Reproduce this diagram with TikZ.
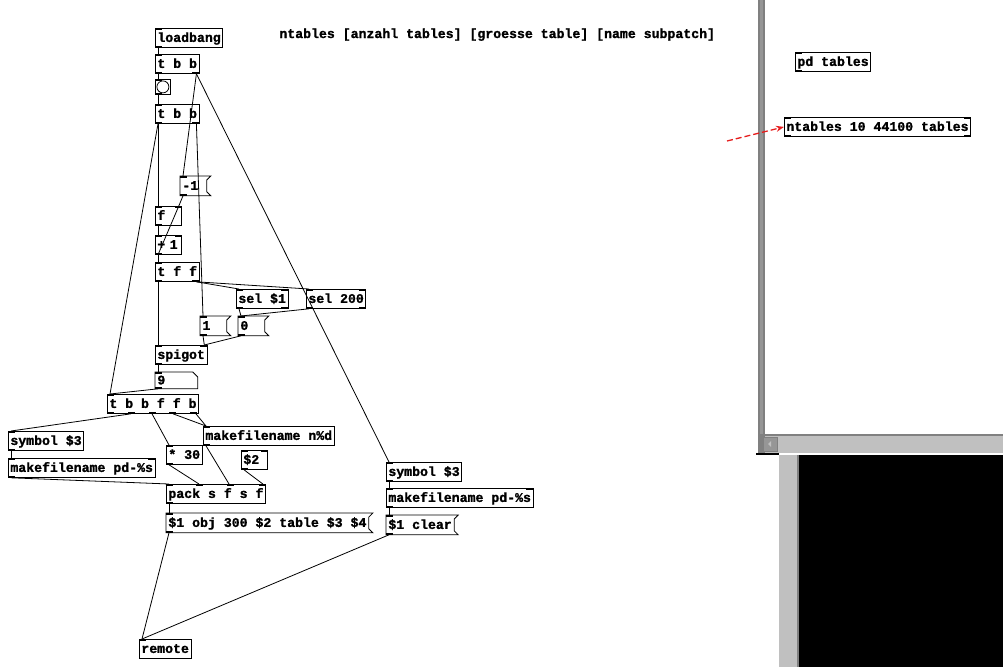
\documentclass[tikz,border=0pt]{standalone}
\usepackage{fontspec}
\newfontfamily\pdfont[FakeBold=1.2]{Liberation Mono}
\usetikzlibrary{positioning, arrows.meta, calc}
\definecolor{barlight}{RGB}{192,192,192}
\definecolor{bardark}{RGB}{128,128,128}
\definecolor{barmid}{RGB}{150,150,150}
\definecolor{arrowred}{RGB}{230,30,30}

\tikzset{
  obj/.style={draw, line width=0.8pt, anchor=north west, inner xsep=2pt, inner ysep=0pt,
    minimum height=19pt, text height=10pt, text depth=2pt,
    font=\pdfont\bfseries\fontsize{13.2}{15}\selectfont},
  msg/.style={obj, draw=none},
  short/.style={text width=22pt, align=left},
  wire/.style={line width=0.8pt},
}

\begin{document}
\begin{tikzpicture}[x=1pt, y=-1pt]
    \useasboundingbox (0,0) rectangle (1003,667);
    \fill[white] (0,0) rectangle (1003,667);

    % window frame on the right
    \fill[bardark] (758,0) rectangle (765,453);
    \fill[barmid] (760,0) rectangle (763,434);
    \fill[barlight] (765,434) rectangle (1003,453);
    \draw[bardark, line width=2pt] (765,435) -- (1003,435);
    \filldraw[fill=barmid, draw=bardark, line width=0.8pt] (763,437) rectangle (777,451);
    \fill[barlight] (771,441) -- (771,447) -- (768,444) -- cycle;
    \fill[black] (756,453) rectangle (779,455);
    \fill[barlight] (779,455) rectangle (797,667);
    \fill[bardark] (797,455) rectangle (799,667);
    \fill[black] (799,455) rectangle (1003,667);

    % main chain
    \node[obj] (lb) at (155,28) {loadbang};
    \node[obj] (tbbA) at (155,54) {t b b};
    \node[draw, line width=0.8pt, minimum size=15pt, inner sep=0pt, anchor=north west] (bng) at (155,79) {};
    \draw[line width=0.8pt] (bng.center) circle (6pt);
    \node[obj] (tbbB) at (155,104) {t b b};
    \node[msg, short] (mneg) at (180,176) {-1};
    \node[obj, short] (ff) at (155,206) {f};
    \node[obj, short] (plus) at (155,235) {+ 1};
    \node[obj] (tff) at (155,262) {t f f};
    \node[obj] (sela) at (236,289) {sel \$1};
    \node[obj] (selb) at (306,289) {sel 200};
    \node[msg, short] (mone) at (200,316) {1};
    \node[msg, short] (mzero) at (238,316) {0};
    \node[obj] (spig) at (155,345) {spigot};
    \node[msg, text width=38pt, align=left, minimum height=16pt, text height=9pt, text depth=1pt] (num) at (155,372) {9};
    \node[obj] (tbbffb) at (107,394) {t b b f f b};

    % file names and pack
    \node[obj] (symA) at (8,431) {symbol \$3};
    \node[obj] (mkA) at (8,458) {makefilename pd-\%s};
    \node[obj] (mul) at (166,445) {* 30};
    \node[obj] (mkN) at (203,426) {makefilename n\%d};
    \node[obj, short] (dol) at (241,450) {\$2};
    \node[obj] (pk) at (166,484) {pack s f s f};
    \node[msg] (mobj) at (166,513) {\$1 obj 300 \$2 table \$3 \$4};
    \node[obj] (symB) at (386,462) {symbol \$3};
    \node[obj] (mkB) at (386,488) {makefilename pd-\%s};
    \node[msg] (mclr) at (386,515) {\$1 clear};
    \node[obj] (rem) at (139,639) {remote};

    % comment and subpatch
    \node[msg, anchor=west] (cmt) at (277,34) {ntables [anzahl tables] [groesse table] [name subpatch]};
    \node[obj] (pdt) at (795,52) {pd tables};
    \node[obj] (ntb) at (784,117) {ntables 10 44100 tables};
    \coordinate (arrtail) at (727,141);
    \draw[arrowred, dash pattern=on 6pt off 3pt, line width=1.3pt, -{Stealth[length=8pt]}] (arrtail) -- (ntb.west);

    % message and number box outlines
    \foreach \m in {mneg, mone, mzero, mobj, mclr}
        \draw[line width=0.8pt] (\m.north west) -- ([xshift=4pt]\m.north east) -- ([yshift=-4pt]\m.north east)
            -- ([yshift=4pt]\m.south east) -- ([xshift=4pt]\m.south east) -- (\m.south west) -- cycle;
    \draw[line width=0.8pt] (num.north west) -- ([xshift=-5pt]num.north east) -- ([yshift=-5pt]num.north east)
        -- (num.south east) -- (num.south west) -- cycle;

    % inlets and outlets
    \foreach \n in {lb, tbbA, bng, tbbB, mneg, ff, plus, tff, sela, selb, mone, mzero, spig, num, tbbffb,
                    symA, mkA, mul, mkN, dol, pk, mobj, symB, mkB, mclr, pdt, ntb} {
        \fill (\n.north west) rectangle ++(7,2);
        \fill (\n.south west) rectangle ++(7,-2);
    }
    \fill (rem.north west) rectangle ++(7,2);
    \foreach \n in {tbbA, tbbB, tff, sela, selb, ntb}
        \fill (\n.south east) rectangle ++(-7,-2);
    \foreach \n in {ff, plus, sela, selb, spig, pk, mkA, mkB, dol, ntb}
        \fill (\n.north east) rectangle ++(-7,2);
    \foreach \d in {20.75, 41.5, 62.25, 83}
        \fill ([xshift=\d pt]tbbffb.south west) rectangle ++(7,-2);
    \foreach \d in {30.33, 60.67}
        \fill ([xshift=\d pt]pk.north west) rectangle ++(7,2);

    % connections
    \draw[wire] ([xshift=3pt]lb.south west) -- ([xshift=3pt]tbbA.north west);
    \draw[wire] ([xshift=3pt]tbbA.south west) -- ([xshift=3pt]bng.north west);
    \draw[wire] ([xshift=3pt]bng.south west) -- ([xshift=3pt]tbbB.north west);
    \draw[wire] ([xshift=-3pt]tbbA.south east) -- ([xshift=3pt]mneg.north west);
    \draw[wire] ([xshift=-3pt]tbbA.south east) -- ([xshift=3pt]symB.north west);
    \draw[wire] ([xshift=-3pt]tbbB.south east) -- ([xshift=3pt]mone.north west);
    \draw[wire] ([xshift=3pt]tbbB.south west) -- ([xshift=3pt]ff.north west);
    \draw[wire] ([xshift=3pt]tbbB.south west) -- ([xshift=3pt]tbbffb.north west);
    \draw[wire] ([xshift=3pt]mneg.south west) -- ([xshift=-3pt]ff.north east);
    \draw[wire] ([xshift=3pt]plus.south west) -- ([xshift=-3pt]ff.north east);
    \draw[wire] ([xshift=3pt]ff.south west) -- ([xshift=3pt]plus.north west);
    \draw[wire] ([xshift=3pt]plus.south west) -- ([xshift=3pt]tff.north west);
    \draw[wire] ([xshift=3pt]tff.south west) -- ([xshift=3pt]spig.north west);
    \draw[wire] ([xshift=-3pt]tff.south east) -- ([xshift=3pt]sela.north west);
    \draw[wire] ([xshift=-3pt]tff.south east) -- ([xshift=3pt]selb.north west);
    \draw[wire] ([xshift=3pt]sela.south west) -- ([xshift=3pt]mzero.north west);
    \draw[wire] ([xshift=3pt]selb.south west) -- ([xshift=3pt]mzero.north west);
    \draw[wire] ([xshift=3pt]mone.south west) -- ([xshift=-3pt]spig.north east);
    \draw[wire] ([xshift=3pt]mzero.south west) -- ([xshift=-3pt]spig.north east);
    \draw[wire] ([xshift=3pt]spig.south west) -- ([xshift=3pt]num.north west);
    \draw[wire] ([xshift=3pt]num.south west) -- ([xshift=3pt]tbbffb.north west);
    \draw[wire] ([xshift=24pt]tbbffb.south west) -- ([xshift=3pt]symA.north west);
    \draw[wire] ([xshift=45pt]tbbffb.south west) -- ([xshift=3pt]mul.north west);
    \draw[wire] ([xshift=66pt]tbbffb.south west) -- ([xshift=3pt]mkN.north west);
    \draw[wire] ([xshift=-3pt]tbbffb.south east) -- ([xshift=3pt]mkN.north west);
    \draw[wire] ([xshift=3pt]symA.south west) -- ([xshift=3pt]mkA.north west);
    \draw[wire] ([xshift=3pt]mkA.south west) -- ([xshift=3pt]pk.north west);
    \draw[wire] ([xshift=3pt]mul.south west) -- ([xshift=33pt]pk.north west);
    \draw[wire] ([xshift=3pt]mkN.south west) -- ([xshift=63pt]pk.north west);
    \draw[wire] ([xshift=3pt]dol.south west) -- ([xshift=-3pt]pk.north east);
    \draw[wire] ([xshift=3pt]pk.south west) -- ([xshift=3pt]mobj.north west);
    \draw[wire] ([xshift=3pt]mobj.south west) -- ([xshift=3pt]rem.north west);
    \draw[wire] ([xshift=3pt]symB.south west) -- ([xshift=3pt]mkB.north west);
    \draw[wire] ([xshift=3pt]mkB.south west) -- ([xshift=3pt]mclr.north west);
    \draw[wire] ([xshift=3pt]mclr.south west) -- ([xshift=3pt]rem.north west);
\end{tikzpicture}
\end{document}
